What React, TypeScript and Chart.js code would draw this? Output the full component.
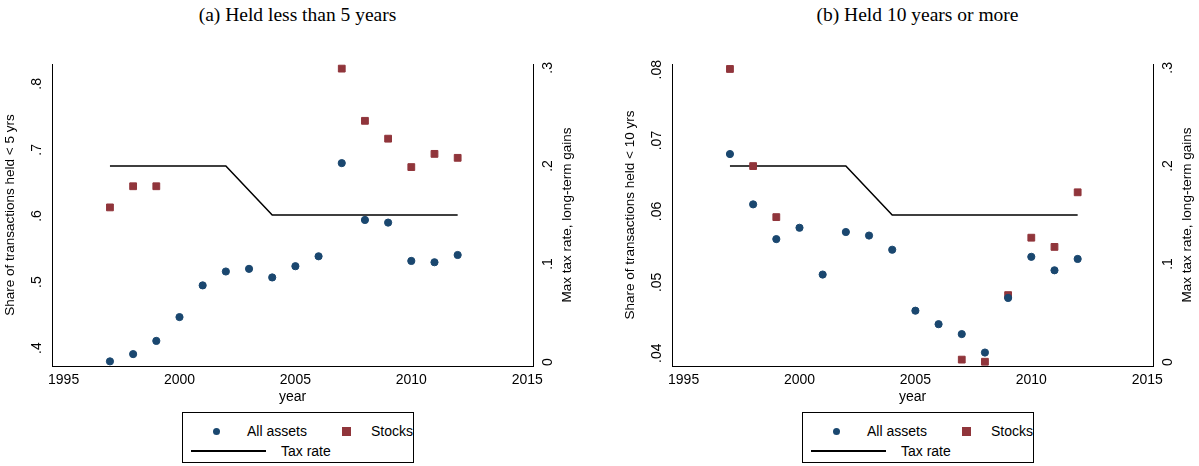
import React, { useRef, useEffect } from "react";
import Chart from "chart.js/auto";

const years = [1997, 1998, 1999, 2000, 2001, 2002, 2003, 2004, 2005, 2006, 2007, 2008, 2009, 2010, 2011, 2012];
const stockYears = [1997, 1998, 1999, 2007, 2008, 2009, 2010, 2011, 2012];
const taxYears = [1997, 2002, 2004, 2012];
const taxRate = [0.2, 0.2, 0.15, 0.15];

const allShort = [0.38, 0.391, 0.411, 0.447, 0.495, 0.516, 0.52, 0.507, 0.524, 0.539, 0.68, 0.594, 0.59, 0.532, 0.53, 0.541];
const stocksShort = [0.613, 0.645, 0.645, 0.823, 0.744, 0.717, 0.674, 0.694, 0.688];
const allLong = [0.0681, 0.061, 0.0561, 0.0577, 0.0511, 0.0571, 0.0566, 0.0546, 0.046, 0.0441, 0.0427, 0.0401, 0.0478, 0.0536, 0.0517, 0.0533];
const stocksLong = [0.0801, 0.0664, 0.0592, 0.0391, 0.0388, 0.0482, 0.0563, 0.055, 0.0627];

const xTicks = [1995, 2000, 2005, 2010, 2015];
const shortTicks = [0.4, 0.5, 0.6, 0.7, 0.8];
const longTicks = [0.04, 0.05, 0.06, 0.07, 0.08];
const taxTicks = [0, 0.1, 0.2, 0.3];

const NAVY = "#1a476f";
const RED = "#90353b";
const SANS = "'Liberation Sans', Arial, sans-serif";
const RIGHT_TITLE = "Max tax rate, long-term gains";

const fmt = (v: number) => {
  if (v === 0) return "0";
  return String(Number(v.toFixed(3))).replace(/^0/, "");
};

interface PanelProps {
  left: number;
  title: string;
  yTitle: string;
  all: number[];
  stocks: number[];
  yTicks: number[];
  yMin: number;
  yMax: number;
}

// y tick labels are drawn turned, as in the original, plus the right axis title
const rotatedTicks = {
  id: "rotatedTicks",
  afterDraw(chart: any) {
    const { ctx } = chart;
    ctx.save();
    ctx.fillStyle = "#000";
    ctx.font = `14px ${SANS}`;
    ctx.textAlign = "center";
    for (const id of ["y", "y1"]) {
      const s = chart.scales[id];
      const x = id === "y" ? s.right - 8 : s.left + 8;
      s.ticks.forEach((t: any) => {
        const y = s.getPixelForValue(t.value);
        ctx.save();
        ctx.translate(x, y);
        ctx.rotate(-Math.PI / 2);
        ctx.textBaseline = id === "y" ? "bottom" : "top";
        ctx.fillText(fmt(t.value), 0, 0);
        ctx.restore();
      });
    }
    const r = chart.scales.y1;
    ctx.font = `13.5px ${SANS}`;
    ctx.translate(r.left + 34, (chart.chartArea.top + chart.chartArea.bottom) / 2);
    ctx.rotate(-Math.PI / 2);
    ctx.textBaseline = "middle";
    ctx.fillText(RIGHT_TITLE, 0, 0);
    ctx.restore();
  },
};

const Panel: React.FC<PanelProps> = ({ left, title, yTitle, all, stocks, yTicks, yMin, yMax }) => {
  const ref = useRef<HTMLCanvasElement>(null);

  useEffect(() => {
    const setTicks = (vals: number[]) => (s: any) => {
      s.ticks = vals.map((v) => ({ value: v }));
    };
    const chart = new Chart(ref.current!, {
      type: "scatter",
      data: {
        datasets: [
          {
            label: "All assets",
            data: years.map((x, i) => ({ x, y: all[i] })),
            backgroundColor: NAVY,
            borderColor: NAVY,
            pointRadius: 3.6,
            yAxisID: "y",
          },
          {
            label: "Stocks",
            data: stockYears.map((x, i) => ({ x, y: stocks[i] })),
            backgroundColor: RED,
            borderColor: RED,
            pointStyle: "rect",
            pointRadius: 4.8,
            yAxisID: "y",
          },
          {
            label: "Tax rate",
            type: "line",
            data: taxYears.map((x, i) => ({ x, y: taxRate[i] })),
            borderColor: "#000",
            borderWidth: 1.5,
            pointRadius: 0,
            showLine: true,
            yAxisID: "y1",
          } as any,
        ],
      },
      options: {
        animation: false,
        responsive: false,
        layout: { padding: { top: 64, left: 0, right: 0, bottom: 0 } },
        plugins: { legend: { display: false }, tooltip: { enabled: false } },
        scales: {
          x: {
            type: "linear",
            min: 1994.5,
            max: 2015.25,
            afterBuildTicks: setTicks(xTicks),
            afterFit: (s: any) => { s.height = 40; },
            grid: { display: false, drawTicks: true, tickLength: 5, tickColor: "#000" } as any,
            border: { color: "#000" },
            ticks: { color: "#000", font: { family: SANS, size: 14 }, padding: 1, maxRotation: 0, callback: (v: any) => String(v) },
            title: { display: true, text: "year", color: "#000", font: { family: SANS, size: 14 }, padding: 0 },
          },
          y: {
            type: "linear",
            position: "left",
            min: yMin,
            max: yMax,
            afterBuildTicks: setTicks(yTicks),
            afterFit: (s: any) => { s.width = 52; },
            grid: { display: false, drawTicks: true, tickLength: 5, tickColor: "#000" } as any,
            border: { color: "#000" },
            ticks: { color: "rgba(0,0,0,0)", callback: () => "" },
            title: { display: true, text: yTitle, color: "#000", font: { family: SANS, size: 13.5 }, padding: { top: 2, bottom: 0 } },
          },
          y1: {
            type: "linear",
            position: "right",
            min: -0.004,
            max: 0.304,
            afterBuildTicks: setTicks(taxTicks),
            afterFit: (s: any) => { s.width = 62; },
            grid: { display: false, drawTicks: true, tickLength: 5, tickColor: "#000" } as any,
            border: { color: "#000" },
            ticks: { color: "rgba(0,0,0,0)", callback: () => "" },
          },
        },
      },
      plugins: [rotatedTicks],
    });
    return () => chart.destroy();
  }, []);

  return (
    <div style={{ position: "absolute", left, top: 0, width: 579, height: 466 }}>
      <div style={{ position: "absolute", top: 4, width: 595, textAlign: "center", fontFamily: "'Liberation Serif', serif", fontSize: 19.5 }}>{title}</div>
      <canvas ref={ref} width={595} height={406} style={{ position: "absolute", left: 0, top: 0 }} />
      <div style={{ position: "absolute", left: 182, top: 412, width: 230, height: 49, border: "1px solid #000", fontFamily: SANS, fontSize: 14 }}>
        <div style={{ position: "absolute", left: 30, top: 15, width: 7, height: 7, borderRadius: 4, background: NAVY }} />
        <div style={{ position: "absolute", left: 64, top: 10 }}>All assets</div>
        <div style={{ position: "absolute", left: 159, top: 14, width: 9, height: 9, background: RED }} />
        <div style={{ position: "absolute", left: 188, top: 10 }}>Stocks</div>
        <div style={{ position: "absolute", left: 8, top: 37, width: 75, height: 1.5, background: "#000" }} />
        <div style={{ position: "absolute", left: 98, top: 30 }}>Tax rate</div>
      </div>
    </div>
  );
};

export default function App() {
  return (
    <div style={{ position: "fixed", left: 0, top: 0, width: 1199, height: 466, background: "#fff", overflow: "hidden" }}>
      <Panel left={0} title="(a) Held less than 5 years" yTitle="Share of transactions held < 5 yrs"
        all={allShort} stocks={stocksShort} yTicks={shortTicks} yMin={0.373} yMax={0.83} />
      <Panel left={620} title="(b) Held 10 years or more" yTitle="Share of transactions held < 10 yrs"
        all={allLong} stocks={stocksLong} yTicks={longTicks} yMin={0.0382} yMax={0.0808} />
    </div>
  );
}
